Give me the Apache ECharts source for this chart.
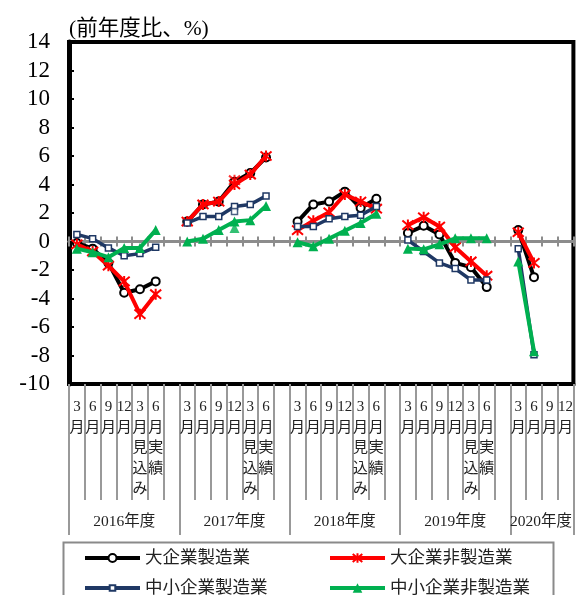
<!DOCTYPE html>
<html>
<head>
<meta charset="utf-8">
<script src="https://cdn.jsdelivr.net/npm/echarts@6/dist/echarts.min.js"></script>
<style>
  html, body { margin: 0; padding: 0; background: #fff; }
  #chart { width: 576px; height: 595px; }
</style>
</head>
<body>
<div id="chart"></div>
<script>
// Survey periods within each fiscal year (one blank slot separates the years)
const periodsFull = ['3月', '6月', '9月', '12月', '3月見込み', '6月実績', ''];
const periods2020 = ['3月', '6月', '9月', '12月'];
const fiscalYears = ['2016年度', '2017年度', '2018年度', '2019年度', '2020年度'];

// Year-on-year change (%) by survey period; null = no survey / gap between years
const largeMfg = [
  -0.1, -0.5, -1.5, -3.6, -3.35, -2.8, null,
  1.4, 2.6, 2.8, 4.2, 4.8, 5.9, null,
  1.4, 2.6, 2.8, 3.5, 2.35, 3.0, null,
  0.6, 1.1, 0.5, -1.5, -1.8, -3.2, null,
  0.8, -2.5, null, null
];
const largeNonMfg = [
  -0.2, -0.7, -1.7, -2.8, -5.1, -3.7, null,
  1.4, 2.6, 2.8, 4.0, 4.7, 6.0, null,
  0.8, 1.45, 2.05, 3.3, 2.8, 2.3, null,
  1.15, 1.7, 1.05, -0.4, -1.4, -2.4, null,
  0.65, -1.5, null, null
];
const smeMfg = [
  0.5, 0.2, -0.45, -1.0, -0.85, -0.4, null,
  1.3, 1.75, 1.75, 2.45, 2.6, 3.2, null,
  1.05, 1.05, 1.6, 1.75, 1.85, 2.45, null,
  0.1, -0.7, -1.5, -1.9, -2.7, -2.7, null,
  -0.5, -7.95, null, null
];
const smeNonMfg = [
  -0.5, -0.75, -1.1, -0.45, -0.45, 0.8, null,
  0.0, 0.2, 0.8, 1.4, 1.5, 2.5, null,
  -0.05, -0.33, 0.2, 0.75, 1.3, 1.95, null,
  -0.5, -0.55, -0.2, 0.22, 0.22, 0.22, null,
  -1.4, -7.7, null, null
];
// December 2017 survey: second figure published on the revised sample basis [slot, value]
const largeNonMfgDecAlt = [[10, 4.3]];
const smeMfgDecAlt = [[10, 2.1]];
const smeNonMfgDecAlt = [[10, 0.95]];

const seriesNames = ['大企業製造業', '大企業非製造業', '中小企業製造業', '中小企業非製造業'];

// ---- derived axis data ----
const periods = [];
for (let y = 0; y < 4; y++) periods.push(...periodsFull);
periods.push(...periods2020);
const slotCount = periods.length;

// year label sits on the middle slot of each block
const yearLabels = new Array(slotCount).fill('');
const yearLabelSlots = [3, 10, 17, 24, 29];
yearLabelSlots.forEach((s, i) => { yearLabels[s] = fiscalYears[i]; });
const yearBoundaries = [0, 7, 14, 21, 28];

const FONT = '"Liberation Serif", "Noto Sans CJK JP", serif';
const COLORS = { black: '#000000', red: '#ff0000', navy: '#1f3864', green: '#00b050' };
const starPath = 'path://M0,0L10,10M10,0L0,10M5,-1L5,11';

const chart = echarts.init(document.getElementById('chart'), null, { renderer: 'canvas' });

const gridBox = { left: 69, top: 42, width: 506, height: 342 };

function baseCategoryAxis(data) {
  return { type: 'category', data: data, boundaryGap: true, gridIndex: 0 };
}

// legend marker sizes follow itemHeight, so each entry gets its own
const legendIconHeights = [10, 12, 7, 12];

const option = {
  backgroundColor: '#fff',
  animation: false,
  title: {
    text: '(前年度比、%)',
    left: 64, top: 14,
    textStyle: { fontSize: 21.5, fontWeight: 'normal', color: '#000', fontFamily: FONT }
  },
  grid: Object.assign({ show: true, borderColor: '#000', borderWidth: 4, backgroundColor: 'transparent' }, gridBox),
  xAxis: [
    // period labels, short separators
    Object.assign(baseCategoryAxis(periods), {
      position: 'bottom',
      axisLine: { onZero: false, lineStyle: { color: '#000', width: 4 } },
      axisTick: { show: true, interval: 0, length: 116, lineStyle: { color: '#999', width: 2 } },
      axisLabel: {
        interval: 0, margin: 13, fontSize: 15, lineHeight: 20.5, color: '#222', fontFamily: FONT,
        formatter: v => (v.match(/\d+|./g) || []).join('\n')
      }
    }),
    // fiscal-year labels, long separators
    Object.assign(baseCategoryAxis(yearLabels), {
      position: 'bottom',
      axisLine: { show: false, onZero: false },
      axisTick: {
        show: true, length: 151, lineStyle: { color: '#999', width: 2 },
        interval: (idx) => yearBoundaries.indexOf(idx) >= 0
      },
      axisLabel: {
        interval: 0, margin: 130, fontSize: 15.5, color: '#222', fontFamily: FONT,
        formatter: v => v === fiscalYears[4] ? '{r|' + v + '}' : v,
        rich: { r: { fontSize: 15.5, color: '#222', fontFamily: FONT, padding: [0, 0, 0, 14] } }
      }
    }),
    // zero line, ticks upward
    Object.assign(baseCategoryAxis(periods), {
      axisLine: { show: true, onZero: true, onZeroAxisIndex: 0, lineStyle: { color: '#8c8c8c', width: 3 } },
      axisTick: { show: true, interval: 0, inside: true, length: 5, lineStyle: { color: '#8c8c8c', width: 2 } },
      axisLabel: { show: false }
    }),
    // zero line, ticks downward
    Object.assign(baseCategoryAxis(periods), {
      axisLine: { show: true, onZero: true, onZeroAxisIndex: 0, lineStyle: { color: '#8c8c8c', width: 3 } },
      axisTick: { show: true, interval: 0, inside: false, length: 5, lineStyle: { color: '#8c8c8c', width: 2 } },
      axisLabel: { show: false }
    })
  ],
  yAxis: {
    type: 'value', min: -10, max: 14, interval: 2,
    axisLine: { show: true, lineStyle: { color: '#000', width: 5 } },
    axisTick: { show: true, inside: true, length: 5, lineStyle: { color: '#000', width: 2 } },
    splitLine: { show: false },
    axisLabel: { margin: 19, fontSize: 23, color: '#000', fontFamily: FONT }
  },
  legend: [0, 1, 2, 3].map(i => ({
    data: [seriesNames[i]],
    left: i % 2 === 0 ? 83 : 328,
    top: i < 2 ? 548 : 578,
    padding: 0,
    itemWidth: 55, itemHeight: legendIconHeights[i], itemGap: 4,
    selectedMode: false,
    lineStyle: { width: 4 },
    textStyle: { fontSize: 17.5, color: '#222', fontFamily: FONT, lineHeight: 20 }
  })),
  graphic: [{
    type: 'rect', left: 61, top: 540, z: 0,
    shape: { x: 0, y: 0, width: 490, height: 80 },
    style: { fill: 'none', stroke: '#8a8a8a', lineWidth: 2 }
  }],
  series: [
    {
      name: seriesNames[0], type: 'line', data: largeMfg, connectNulls: false,
      symbol: 'circle', symbolSize: 8, showAllSymbol: true,
      lineStyle: { color: COLORS.black, width: 4 },
      itemStyle: { color: '#fff', borderColor: COLORS.black, borderWidth: 2 }, z: 3
    },
    {
      name: seriesNames[1], type: 'line', data: largeNonMfg, connectNulls: false,
      symbol: starPath, symbolSize: 11, showAllSymbol: true,
      lineStyle: { color: COLORS.red, width: 4 },
      itemStyle: { color: COLORS.red, borderColor: COLORS.red, borderWidth: 2 }, z: 4
    },
    {
      name: seriesNames[2], type: 'line', data: smeMfg, connectNulls: false,
      symbol: 'rect', symbolSize: 6, showAllSymbol: true,
      lineStyle: { color: COLORS.navy, width: 3.5 },
      itemStyle: { color: '#fff', borderColor: COLORS.navy, borderWidth: 1.5 }, z: 5
    },
    {
      name: seriesNames[3], type: 'line', data: smeNonMfg, connectNulls: false,
      symbol: 'triangle', symbolSize: 10, showAllSymbol: true,
      lineStyle: { color: COLORS.green, width: 4 },
      itemStyle: { color: COLORS.green, borderColor: COLORS.green, borderWidth: 0 }, z: 6
    },
    {
      name: seriesNames[1] + '（12月・改定）', type: 'scatter', data: largeNonMfgDecAlt,
      symbol: starPath, symbolSize: 11,
      itemStyle: { color: COLORS.red, borderColor: COLORS.red, borderWidth: 2 }, z: 4
    },
    {
      name: seriesNames[2] + '（12月・改定）', type: 'scatter', data: smeMfgDecAlt,
      symbol: 'rect', symbolSize: 6,
      itemStyle: { color: '#fff', borderColor: COLORS.navy, borderWidth: 1.5 }, z: 5
    },
    {
      name: seriesNames[3] + '（12月・改定）', type: 'scatter', data: smeNonMfgDecAlt,
      symbol: 'triangle', symbolSize: 10,
      itemStyle: { color: COLORS.green }, z: 6
    }
  ]
};

chart.setOption(option);
</script>
</body>
</html>
